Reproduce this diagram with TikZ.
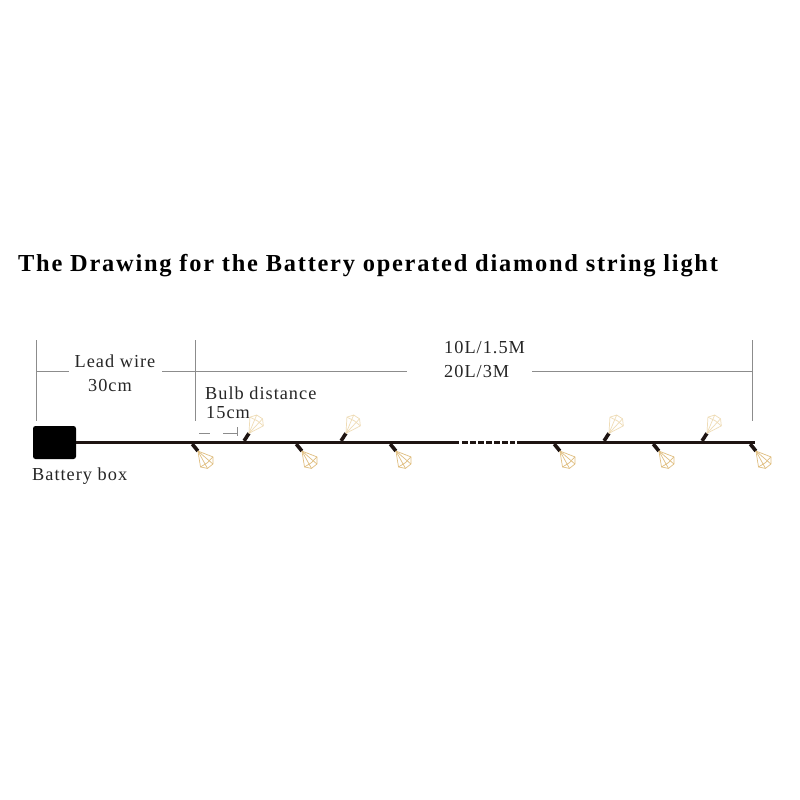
\documentclass[tikz,border=0pt]{standalone}
\usepackage{fontspec}
\setmainfont{Liberation Serif}
\newfontfamily\titlefont[LetterSpace=7.2]{Liberation Serif}
\newfontfamily\labelfont[LetterSpace=5.5]{Liberation Serif}
\tikzset{
  dim/.style={draw=dimgray,line width=1pt},
  wire/.style={draw=wirecol,line width=2.2pt},
  lbl/.style={inner sep=0pt,font=\labelfont\fontsize{18.3}{20}\selectfont,text=black!85},
  cage/.style={draw=cagecol,line width=0.7pt,line join=round},
  socket/.style={draw=wirecol,line width=3.6pt},
  bulb/.pic={
    \draw[socket] (2,0) -- (11,0);
    \draw[cage] (11,0) -- (25,8) -- (30.5,3.5) -- (30.5,-3.5) -- (25,-8) -- cycle;
    \draw[cage] (25,8) -- (26,0) -- (25,-8);
    \draw[cage] (11,0) -- (30.5,3.5);
    \draw[cage] (11,0) -- (30.5,-3.5);
  }
}
\definecolor{dimgray}{HTML}{8C8C8C}
\definecolor{wirecol}{HTML}{1E1412}
\definecolor{cagecol}{HTML}{E0BE80}
\definecolor{palecage}{HTML}{EFDCB6}
\begin{document}
\begin{tikzpicture}[x=1pt,y=-1pt]
\useasboundingbox[fill=white] (0,0) rectangle (800,800);
\node[anchor=west,inner sep=0pt,font=\titlefont\bfseries\fontsize{24.4}{26}\selectfont] (title) at (18,266) {The Drawing for the Battery operated diamond string light};

% dimension anchors
\coordinate (lt) at (36,340); \coordinate (lb) at (36,421);
\coordinate (mt) at (195,340); \coordinate (mb) at (195,421);
\coordinate (rt) at (752,340); \coordinate (rb) at (752,421);
\coordinate (lm) at (36,371); \coordinate (lme) at (69,371);
\coordinate (mms) at (162,371); \coordinate (mme) at (407,371);
\coordinate (rms) at (532,371); \coordinate (rm) at (752,371);
\draw[dim] (lt) -- (lb);
\draw[dim] (mt) -- (mb);
\draw[dim] (rt) -- (rb);
\draw[dim] (lm) -- (lme);
\draw[dim] (mms) -- (mme);
\draw[dim] (rms) -- (rm);

% bulb distance
\coordinate (ds) at (199,433); \coordinate (dm) at (210,433);
\coordinate (dn) at (223,433); \coordinate (de) at (237,433);
\coordinate (tt) at (237,427); \coordinate (tb) at (237,436);
\draw[dim] (ds) -- (dm);
\draw[dim] (dn) -- (de);
\draw[dim] (tt) -- (tb);

% labels
\node[lbl] (lead) at (115,361) {Lead wire};
\node[lbl] (thirty) at (110,385) {30cm};
\node[lbl,anchor=west] (bd) at (205,393) {Bulb distance};
\node[lbl,anchor=west] (fifteen) at (206,413) {15cm};
\node[lbl,anchor=west] (ten) at (444,348) {10L/1.5M};
\node[lbl,anchor=west] (twenty) at (444,372) {20L/3M};
\node[lbl,anchor=west] (bb) at (32,476) {Battery box};

% battery box and wire
\node[fill=black,rounded corners=2.5pt,minimum width=43pt,minimum height=33pt,inner sep=0pt] (box) at (54.5,442.5) {};
\coordinate (w1) at (459,442.5); \coordinate (d1) at (462,442.5); \coordinate (d2) at (515,442.5);
\coordinate (w2) at (517,442.5); \coordinate (w3) at (755,442.5);
\draw[wire] (box.east) -- (w1);
\draw[wire,dash pattern=on 6pt off 2pt] (d1) -- (d2);
\draw[wire] (w2) -- (w3);

% bulbs
\foreach \x in {191,295,389,553,652,749}
  \pic[rotate=-51] at (\x,442.5) {bulb};
\colorlet{cagecol}{palecage}
\foreach \x in {243,340,603,701}
  \pic[rotate=57] at (\x,442.5) {bulb};
\end{tikzpicture}
\end{document}
